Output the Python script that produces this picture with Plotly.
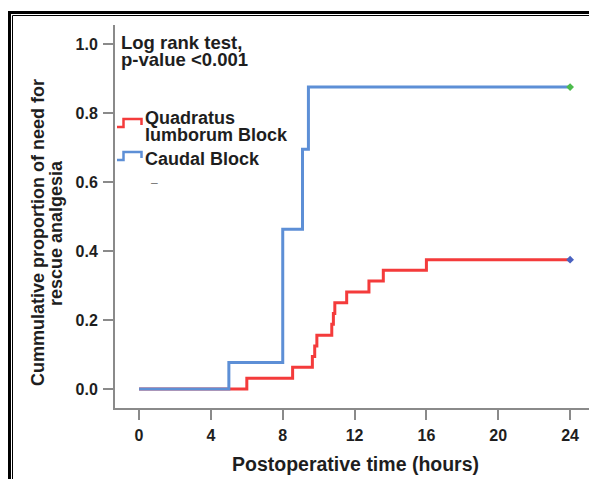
import plotly.graph_objects as go

# ---- data ----
ql_time = [0, 6, 8.55, 9.65, 9.78, 9.9, 10.73, 10.82, 10.9, 11.56, 12.8, 13.6, 16, 24]
ql_prop = [0, 0.031, 0.063, 0.094, 0.125, 0.156, 0.188, 0.219, 0.25, 0.281, 0.313, 0.344, 0.375, 0.375]

caudal_time = [0, 5, 8, 9.1, 9.43, 24]
caudal_prop = [0, 0.077, 0.463, 0.695, 0.875, 0.875]

x_ticks = [0, 4, 8, 12, 16, 20, 24]
y_ticks = [0.0, 0.2, 0.4, 0.6, 0.8, 1.0]
y_tick_labels = ["0.0", "0.2", "0.4", "0.6", "0.8", "1.0"]

series_names = ["Quadratus lumborum Block", "Caudal Block"]

RED = "#f43b3b"
BLUE = "#5d8fd6"
AXIS = "#8a8a8a"
TXT = "#1e1e1e"
FONT = "Liberation Sans, Arial, sans-serif"

# page body has an 8px default margin -> figure is 8px smaller and all
# reference pixel positions are shifted by OFF
OFF = 8
W, H = 597 - OFF, 479 - OFF
L, R, T, B = 115 - OFF, 5, 25 - OFF, 71
PW, PH = W - L - R, H - T - B


def px(x):
    return (x - OFF - L) / PW


def py(y):
    return (H - B - (y - OFF)) / PH


fig = go.Figure()
fig.add_trace(go.Scatter(x=ql_time, y=ql_prop, mode="lines", line_shape="hv",
                         line=dict(color=RED, width=3), name=series_names[0],
                         showlegend=False, hoverinfo="skip"))
fig.add_trace(go.Scatter(x=caudal_time, y=caudal_prop, mode="lines", line_shape="hv",
                         line=dict(color=BLUE, width=3), name=series_names[1],
                         showlegend=False, hoverinfo="skip"))
# censor markers at end
fig.add_trace(go.Scatter(x=[caudal_time[-1]], y=[caudal_prop[-1]], mode="markers",
                         marker=dict(symbol="diamond", size=6, color="#4cbb4c"),
                         showlegend=False, hoverinfo="skip"))
fig.add_trace(go.Scatter(x=[ql_time[-1]], y=[ql_prop[-1]], mode="markers",
                         marker=dict(symbol="diamond", size=6, color="#4a62c0"),
                         showlegend=False, hoverinfo="skip"))

fig.update_xaxes(range=[-1.34, 25.22], tickvals=x_ticks, ticks="outside", ticklen=10,
                 tickwidth=2, tickcolor=AXIS, showline=True, linecolor=AXIS, linewidth=2,
                 showgrid=False, zeroline=False, ticklabelstandoff=2,
                 tickfont=dict(family=FONT, size=16, color=TXT, weight="bold"))
fig.update_yaxes(range=[-0.055, 1.055], tickvals=y_ticks, ticktext=y_tick_labels,
                 ticks="outside", ticklen=10, tickwidth=2, tickcolor=AXIS, showline=True,
                 linecolor=AXIS, linewidth=2, showgrid=False, zeroline=False,
                 ticklabelstandoff=2,
                 tickfont=dict(family=FONT, size=16, color=TXT, weight="bold"))

annots = []


def txt(text, x, y, size=18, xanchor="left", angle=0, color=TXT):
    annots.append(dict(text=text, x=px(x), y=py(y), xref="paper", yref="paper",
                       xanchor=xanchor, yanchor="middle", showarrow=False,
                       textangle=angle,
                       font=dict(family=FONT, size=size, color=color, weight="bold")))


txt("Log rank test,", 119, 42, size=18.5)
txt("p-value <0.001", 119, 59, size=18.5)
txt("Quadratus", 143, 118)
txt("lumborum Block", 143, 135)
txt("Caudal Block", 143, 159)
annots.append(dict(text="–", x=px(149), y=py(183), xref="paper", yref="paper",
                   showarrow=False, font=dict(family=FONT, size=12, color="#777777")))
txt("Cummulative proportion of need for", 38, 233, size=18, xanchor="center", angle=-90)
txt("rescue analgesia", 56, 233, size=18, xanchor="center", angle=-90)
txt("Postoperative time (hours)", 355, 464, size=19.5, xanchor="center")

shapes = []


def path(points, color, width):
    d = "M " + " L ".join(f"{px(a):.5f},{py(b):.5f}" for a, b in points)
    shapes.append(dict(type="path", path=d, xref="paper", yref="paper",
                       line=dict(color=color, width=width)))


# legend step icons
path([(117, 127), (123.5, 127), (123.5, 119), (141.5, 119), (141.5, 125)], RED, 2.5)
path([(117, 160), (123.5, 160), (123.5, 152), (141.5, 152), (141.5, 158)], BLUE, 2.5)

# outer image frame (top + left double borders)
path([(9.5, 479), (9.5, 12.5), (597, 12.5)], "#000000", 3)
path([(12.5, 479), (12.5, 15.5), (597, 15.5)], "#000000", 1)

fig.update_layout(width=W, height=H, margin=dict(l=L, r=R, t=T, b=B, autoexpand=False),
                  paper_bgcolor="white", plot_bgcolor="white",
                  annotations=annots, shapes=shapes, showlegend=False)

fig.write_html("out.html")
